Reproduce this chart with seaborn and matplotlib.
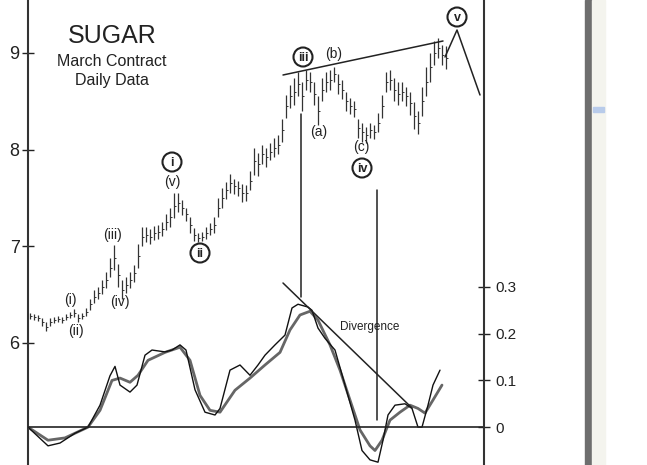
import numpy as np
import pandas as pd
import matplotlib
matplotlib.use("Agg")
import matplotlib.pyplot as plt
import seaborn as sns
from matplotlib.patches import Rectangle, Circle

sns.set_style("white")
plt.rcParams['font.family'] = ['Liberation Sans', 'DejaVu Sans']

# ---- price bars (day index, mid price, half range) ----
price_mid = [6.28, 6.27, 6.26, 6.22, 6.17, 6.22, 6.24, 6.25, 6.24, 6.27,
             6.29, 6.31, 6.26, 6.28, 6.32, 6.40, 6.48, 6.52, 6.58, 6.65,
             6.78, 6.88, 6.70, 6.55, 6.60, 6.65, 6.72, 6.90, 7.10, 7.12,
             7.10, 7.14, 7.15, 7.18, 7.25, 7.30, 7.42, 7.45, 7.40, 7.33,
             7.22, 7.12, 7.09, 7.10, 7.14, 7.18, 7.22, 7.40, 7.50, 7.58,
             7.65, 7.62, 7.60, 7.55, 7.55, 7.68, 7.88, 7.85, 7.95, 7.92,
             7.98, 8.02, 8.05, 8.20, 8.45, 8.55, 8.60, 8.68, 8.55, 8.72,
             8.70, 8.58, 8.40, 8.62, 8.70, 8.72, 8.78, 8.68, 8.62, 8.50,
             8.45, 8.42, 8.22, 8.18, 8.15, 8.20, 8.18, 8.28, 8.45, 8.70,
             8.72, 8.62, 8.58, 8.60, 8.55, 8.48, 8.35, 8.28, 8.50, 8.70,
             8.85, 9.00, 9.05, 8.98, 8.95]
price_half = [0.03, 0.03, 0.03, 0.04, 0.05, 0.04, 0.03, 0.03, 0.03, 0.03,
              0.03, 0.04, 0.04, 0.03, 0.04, 0.06, 0.07, 0.06, 0.07, 0.08,
              0.10, 0.13, 0.12, 0.10, 0.08, 0.08, 0.09, 0.12, 0.10, 0.08,
              0.08, 0.07, 0.07, 0.07, 0.08, 0.10, 0.13, 0.10, 0.08, 0.07,
              0.08, 0.07, 0.05, 0.05, 0.06, 0.06, 0.08, 0.10, 0.10, 0.09,
              0.10, 0.08, 0.08, 0.09, 0.08, 0.10, 0.14, 0.12, 0.10, 0.10,
              0.09, 0.10, 0.10, 0.12, 0.12, 0.12, 0.14, 0.12, 0.15, 0.10,
              0.10, 0.12, 0.15, 0.12, 0.10, 0.10, 0.08, 0.10, 0.10, 0.10,
              0.08, 0.08, 0.10, 0.10, 0.08, 0.08, 0.07, 0.10, 0.12, 0.10,
              0.10, 0.12, 0.12, 0.10, 0.10, 0.12, 0.14, 0.12, 0.15, 0.15,
              0.15, 0.12, 0.10, 0.10, 0.12]
days = np.arange(len(price_mid))

# ---- oscillator (day index, value) ----
osc_days = [-0.5, 4.5, 7.5, 11.25, 14.5, 17.5, 20, 21.25, 22.5, 25, 26.75, 28.75,
            30.5, 33.75, 35.5, 37.5, 39, 41.25, 43.75, 46.25, 47.5, 50, 52.5,
            55, 57, 58.75, 61.25, 63.75, 65.5, 67, 69.5, 70.5, 72, 73.75, 76.25,
            78.75, 81.25, 83, 85, 87, 88.25, 89.5, 91.25, 93.75, 95.5, 97, 98,
            99.5, 100.75, 102.5]
osc_fast = [0.0, -0.04, -0.034, -0.013, 0.0, 0.047, 0.11, 0.13, 0.09, 0.075,
            0.09, 0.154, 0.165, 0.161, 0.165, 0.176, 0.165, 0.08, 0.032, 0.026,
            0.04, 0.122, 0.133, 0.111, 0.133, 0.154, 0.176, 0.197, 0.255, 0.263,
            0.257, 0.25, 0.212, 0.19, 0.165, 0.09, 0.015, -0.05, -0.07, -0.075,
            -0.028, 0.026, 0.047, 0.05, 0.04, 0.0, 0.0, 0.047, 0.09, 0.122]
sig_days = [-0.5, 4.5, 8.75, 14.5, 17.5, 20.5, 22.5, 25, 27, 29.5, 33.75, 37.5,
            40, 42.5, 45, 47.5, 51.25, 55, 58.75, 62.5, 65, 67.5, 70, 72, 75,
            77.5, 80, 82.5, 85, 86.25, 88, 90, 92.5, 95, 97, 98.75, 100.75, 103]
osc_signal = [0.0, -0.028, -0.023, 0.0, 0.036, 0.1, 0.105, 0.096, 0.111, 0.143,
              0.16, 0.171, 0.143, 0.068, 0.036, 0.032, 0.079, 0.105, 0.133, 0.16,
              0.208, 0.24, 0.248, 0.229, 0.176, 0.122, 0.058, -0.006, -0.04,
              -0.05, -0.028, 0.015, 0.032, 0.047, 0.04, 0.03, 0.058, 0.09]

W, H = 647, 465
fig = plt.figure(figsize=(W / 100, H / 100), dpi=100)
ax = fig.add_axes([28 / W, 0, 456 / W, 1])
ax.set_xlim(-0.5, 113.5)
ax.set_ylim(4.738, 9.548)

lo = np.array(price_mid) - np.array(price_half)
hi = np.array(price_mid) + np.array(price_half)
ax.vlines(days, lo, hi, color="#333333", lw=0.9)
ax.hlines(price_mid, days, days + 0.5, color="#333333", lw=0.7)

ax2 = ax.twinx()
ax2.set_ylim(-0.081, 0.914)
ax2.set_xlim(-0.5, 113.5)
sns.lineplot(x=sig_days, y=osc_signal, ax=ax2, color="#666666", lw=2.0, sort=False)
sns.lineplot(x=osc_days, y=osc_fast, ax=ax2, color="#111111", lw=1.0, sort=False)
ax2.axhline(0, color="#222222", lw=1.2)

for a in (ax, ax2):
    a.spines['top'].set_visible(False)
    a.spines['bottom'].set_visible(False)
    a.set_xticks([])
    a.set_xlabel(""); a.set_ylabel("")
ax.spines['right'].set_visible(False)
ax.spines['left'].set_color("#333333"); ax.spines['left'].set_linewidth(1.5)
ax2.spines['left'].set_visible(False)
ax2.spines['right'].set_color("#333333"); ax2.spines['right'].set_linewidth(1.5)
ax.set_yticks([6, 7, 8, 9])
ax.set_yticklabels(["6", "7", "8", "9"])
ax.tick_params(axis='y', direction='inout', length=8, width=1, labelsize=13, pad=2, colors="#222222")
ax2.set_yticks([0, 0.1, 0.2, 0.3])
ax2.set_yticklabels(["0", "0.1", "0.2", "0.3"])
ax2.tick_params(axis='y', direction='inout', length=8, width=1, labelsize=11, pad=4, colors="#222222")

tf = fig.transFigure
def P(x, y):
    return (x / W, 1 - y / H)

def line(pts, lw=1.1, c="#222222"):
    xs = [p[0] / W for p in pts]; ys = [1 - p[1] / H for p in pts]
    fig.add_artist(plt.Line2D(xs, ys, transform=tf, color=c, lw=lw))

def txt(x, y, s, size=10, **kw):
    fig.text(x / W, 1 - y / H, s, ha="center", va="center", fontsize=size, color="#222222", **kw)

def circ(x, y, s):
    fig.add_artist(Circle(P(x, y), radius=9.5 / W, transform=tf, fill=False, lw=1.5, ec="#222222"))
    # keep circle round: scale via ellipse approx
    fig.text(x / W, 1 - y / H, s, ha="center", va="center", fontsize=9, color="#222222", fontweight="bold")

txt(112, 36, "SUGAR", 18)
txt(112, 61, "March Contract", 11.5)
txt(112, 81, "Daily Data", 11.5)
txt(172, 182, "(v)"); txt(113, 235, "(iii)"); txt(120, 302, "(iv)")
txt(70, 300, "(i)"); txt(76, 331, "(ii)")
txt(319, 132, "(a)"); txt(334, 54, "(b)"); txt(361, 147, "(c)")
txt(370, 327, "Divergence", 8.5)

from matplotlib.patches import Ellipse
for (x, y, s) in [(172, 162, "i"), (200, 253, "ii"), (303, 57, "iii"), (362, 168, "iv"), (457, 17, "v")]:
    fig.add_artist(Ellipse(P(x, y), width=19 / W, height=19 / H, transform=tf, fill=False, lw=1.5, ec="#222222"))
    fig.text(x / W, 1 - y / H - 0.002, s, ha="center", va="center", fontsize=9, color="#222222", fontweight="bold")

line([(283, 75), (443, 41)])
line([(445, 57), (457, 30), (480, 95)])
line([(301, 114), (301, 297)])
line([(377, 190), (377, 420)])
line([(283, 283), (412, 408)])

# window scrollbar strip on the right edge
fig.add_artist(Rectangle((585 / W, 0), 7 / W, 1, transform=tf, color="#6e6e6e"))
fig.add_artist(Rectangle((592 / W, 0), 13 / W, 1, transform=tf, color="#f4f4ee"))
fig.add_artist(Rectangle((593 / W, 1 - 112 / H), 11 / W, 5 / H, transform=tf, color="#b8cbea"))

fig.savefig("out.png", dpi=100)
